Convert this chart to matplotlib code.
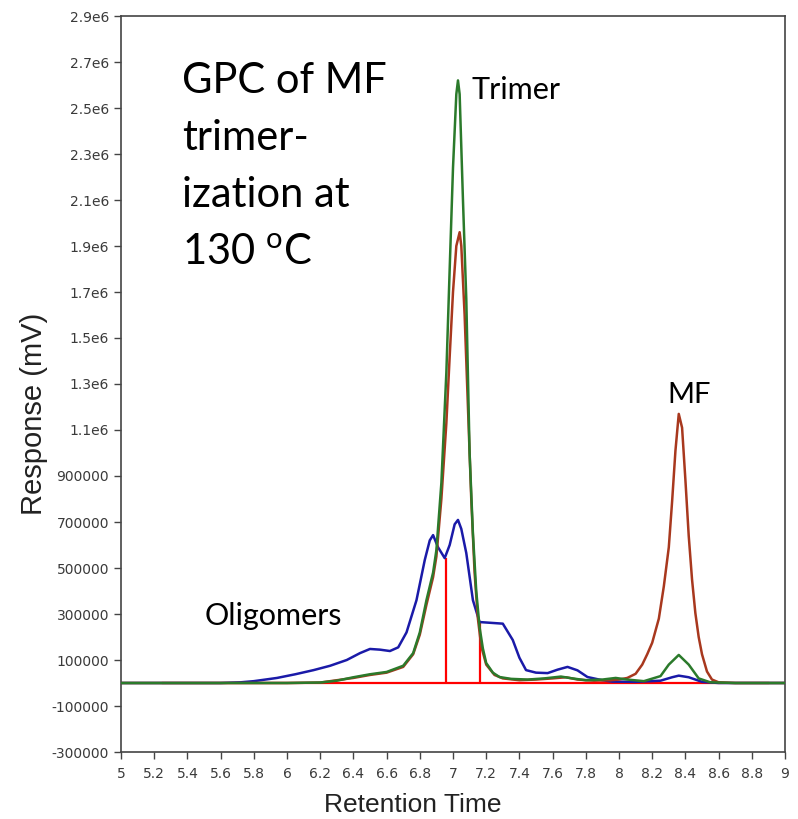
import numpy as np
import matplotlib
matplotlib.use("Agg")
import matplotlib.pyplot as plt
from matplotlib.ticker import FuncFormatter

# retention time (min) and response (units of 1000 mV)
green_t = [5.0, 5.5, 6.0, 6.2, 6.3, 6.4, 6.5, 6.6, 6.7, 6.76, 6.8, 6.84, 6.88, 6.9, 6.93,
           6.96, 6.98, 7.0, 7.02, 7.03, 7.04, 7.06, 7.08, 7.1, 7.12, 7.14, 7.16, 7.18, 7.2,
           7.24, 7.28, 7.35, 7.45, 7.55, 7.65, 7.72, 7.8, 7.9, 7.98, 8.05, 8.15, 8.25, 8.3,
           8.36, 8.42, 8.48, 8.55, 8.7, 9.0]
green_r = [0, 0, 0, 2, 10, 25, 38, 48, 75, 130, 220, 360, 480, 578, 870,
           1350, 1800, 2240, 2560, 2620, 2560, 2100, 1670, 1000, 650, 400, 243, 150, 87,
           45, 26, 18, 15, 20, 28, 20, 12, 15, 22, 15, 8, 30, 80,
           122, 80, 20, 3, 0, 0]

brown_t = [5.0, 5.5, 6.0, 6.2, 6.4, 6.5, 6.6, 6.7, 6.76, 6.8, 6.84, 6.88, 6.9, 6.93, 6.96,
           6.98, 7.0, 7.02, 7.04, 7.05, 7.07, 7.09, 7.11, 7.13, 7.15, 7.17, 7.2, 7.25, 7.3,
           7.4, 7.5, 7.6, 7.68, 7.75, 7.85, 7.95, 8.0, 8.05, 8.1, 8.14, 8.17, 8.2, 8.24,
           8.27, 8.3, 8.32, 8.34, 8.36, 8.38, 8.4, 8.42, 8.44, 8.46, 8.48, 8.5, 8.53,
           8.56, 8.6, 8.7, 9.0]
brown_r = [0, 0, 0, 2, 22, 35, 45, 70, 125, 210, 340, 460, 550, 800, 1130,
           1420, 1700, 1900, 1960, 1900, 1600, 1200, 800, 480, 280, 160, 80, 35, 20,
           12, 15, 20, 25, 15, 10, 12, 15, 22, 40, 80, 125, 175, 280,
           420, 590, 790, 1010, 1170, 1110, 883, 640, 450, 304, 200, 125, 50,
           15, 3, 0, 0]

blue_t = [5.0, 5.6, 5.72, 5.8, 5.94, 6.05, 6.16, 6.26, 6.36, 6.44, 6.5, 6.56, 6.62, 6.67,
          6.72, 6.78, 6.83, 6.86, 6.88, 6.91, 6.95, 6.98, 7.01, 7.03, 7.05, 7.08, 7.12,
          7.16, 7.22, 7.3, 7.36, 7.4, 7.44, 7.5, 7.57, 7.63, 7.69, 7.75, 7.81, 7.9, 7.96,
          8.1, 8.25, 8.32, 8.36, 8.42, 8.5, 8.6, 9.0]
blue_r = [0, 0, 3, 8, 22, 38, 56, 75, 100, 130, 148, 145, 139, 155,
          220, 360, 535, 620, 643, 590, 543, 600, 690, 709, 670, 565, 360,
          265, 262, 258, 187, 110, 56, 45, 43, 58, 70, 55, 26, 12, 6,
          5, 10, 25, 32, 25, 5, 0, 0]

# integration baseline and peak splits
base_t = [5.25, 8.9]
split_t = [6.96, 7.16]
split_top = [545, 265]

yticks = list(range(-300000, 2900001, 200000))
xticks = np.round(np.arange(5.0, 9.01, 0.2), 1)

fig = plt.figure(figsize=(7.98, 8.19), dpi=100)
ax = fig.add_axes([121/798, 1-752/819, (785-121)/798, (752-16)/819])

k = 1000
ax.plot(base_t, [0, 0], color="#ff0000", lw=1.6, zorder=2)
ax.vlines(split_t, 0, np.array(split_top)*k, color="#ff0000", lw=1.6, zorder=2)
ax.plot(blue_t, np.array(blue_r)*k, color="#1a1aa8", lw=1.8, zorder=3)
ax.plot(brown_t, np.array(brown_r)*k, color="#a8381e", lw=1.8, zorder=4)
ax.plot(green_t, np.array(green_r)*k, color="#2b7a2b", lw=1.8, zorder=5)

ax.set_xlim(5, 9)
ax.set_ylim(-300000, 2900000)
ax.set_xticks(xticks)
ax.set_xticklabels(["%g" % v for v in xticks])
ax.set_yticks(yticks)

def fmt(v, pos):
    if abs(v) >= 1000000:
        return "%.1fe6" % (v/1e6)
    return "%d" % v
ax.yaxis.set_major_formatter(FuncFormatter(fmt))

ax.tick_params(direction="out", length=5, width=1, labelsize=10, labelcolor="#3a3a3a",
               color="#444444")
ax.tick_params(axis="x", pad=6)
for s in ax.spines.values():
    s.set_color("#444444")
    s.set_linewidth(1.2)

ax.set_xlabel("Retention Time", fontsize=19, family="Liberation Sans", color="#222222")
ax.set_ylabel("Response (mV)", fontsize=21, family="Liberation Sans", color="#222222")
ax.xaxis.set_label_coords(0.44, -0.056)
ax.yaxis.set_label_coords(-0.11, 0.46)
for lb in ax.get_xticklabels() + ax.get_yticklabels():
    lb.set_family("DejaVu Sans")

# annotations
fnt = "Lato"
fig.text(182/798, 1-62/819, "GPC of MF\ntrimer-\nization at\n130 $^{\\mathregular{o}}$C",
         fontsize=30, family=fnt, va="top", ha="left", linespacing=1.62)
fig.text(472/798, 1-99/819, "Trimer", fontsize=22, family=fnt, va="baseline")
fig.text(667/798, 1-403/819, "MF", fontsize=21, family=fnt, va="baseline")
fig.text(205/798, 1-625/819, "Oligomers", fontsize=22, family=fnt, va="baseline")

fig.savefig("out.png", dpi=100)
